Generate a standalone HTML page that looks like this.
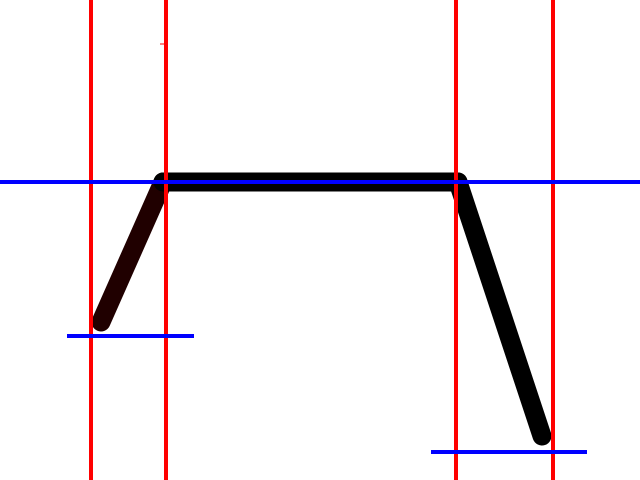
<!DOCTYPE html>
<html><head><meta charset="utf-8"><style>html,body{margin:0;padding:0;background:#fff}svg{display:block}</style></head>
<body>
<svg id="chart" width="640" height="480" viewBox="0 0 640 480" xmlns="http://www.w3.org/2000/svg"></svg>
<script>
const pathX = [10.1, 16.3, 45.8, 54.2];
const pathY = [32.2, 18.2, 18.2, 43.6];
const vLinesX = [9.1, 16.6, 45.6, 55.3];
const hLineFullY = [18.2];
const hShortY = [33.6, 45.2];
const hShortX0 = [6.7, 43.1];
const hShortX1 = [19.4, 58.7];
const segColors = ['#200000', '#000000', '#000000'];
const X = v => v * 10;
const Y = v => v * 10;
const svg = document.getElementById('chart');
const NS = 'http://www.w3.org/2000/svg';
function mk(tag, attrs) { const e = document.createElementNS(NS, tag); for (const k in attrs) e.setAttribute(k, attrs[k]); svg.appendChild(e); return e; }
for (let i = 0; i < pathX.length - 1; i++) {
  const l = mk('line', {x1: X(pathX[i]), y1: Y(pathY[i]), x2: X(pathX[i+1]), y2: Y(pathY[i+1]), stroke: segColors[i], 'stroke-width': 19, 'stroke-linecap': 'round'});
  
  
}
vLinesX.forEach((v, i) => {
  const l = mk('line', {x1: X(v), y1: 0, x2: X(v), y2: 480, stroke: '#ff0000', 'stroke-width': 4});
  
  
});
const t = mk('line', {x1: 160, y1: 44, x2: 164, y2: 44, stroke: '#ff0000', 'stroke-width': 1});


hLineFullY.forEach(v => {
  const l = mk('line', {x1: 0, y1: Y(v), x2: 640, y2: Y(v), stroke: '#0000ff', 'stroke-width': 4});
  
  
});
hShortY.forEach((v, i) => {
  const l = mk('line', {x1: X(hShortX0[i]), y1: Y(v), x2: X(hShortX1[i]), y2: Y(v), stroke: '#0000ff', 'stroke-width': 4});
  
  
});
</script>
</body></html>
